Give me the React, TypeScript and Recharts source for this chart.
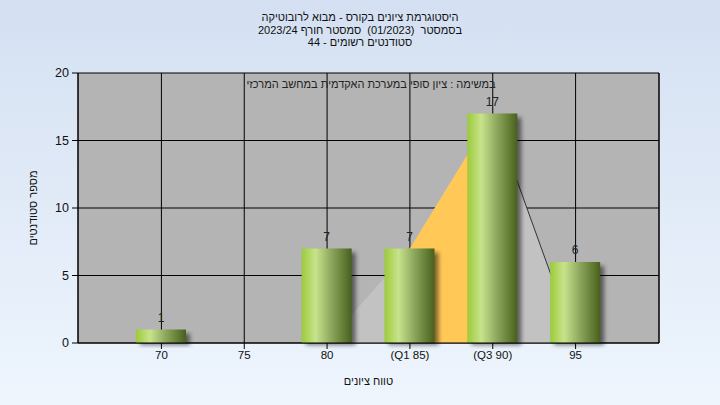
import React from 'react'
import {
  ComposedChart,
  Bar,
  Area,
  XAxis,
  YAxis,
  CartesianGrid,
  LabelList,
} from 'recharts'

const categories = ['70', '75', '80', '(Q1 85)', '(Q3 90)', '95']
const counts = [1, 0, 7, 7, 17, 6]
const spread = [null, null, 0, 7, 17, 0]
const quartileBand = [null, null, null, 7, 17, null]
const upperTail = [null, null, null, null, 17, 0]
const yTicks = [0, 5, 10, 15, 20]

const titleLines = [
  'היסטוגרמת ציונים בקורס - מבוא לרובוטיקה',
  'בסמסטר  (01/2023)  סמסטר חורף 2023/24',
  'סטודנטים רשומים - 44',
]
const note = 'במשימה : ציון סופי במערכת האקדמית במחשב המרכזי'

const data = categories.map((c, i) => ({
  label: c,
  count: counts[i],
  spread: spread[i],
  band: quartileBand[i],
  tail: upperTail[i],
}))

const FONT = '"Liberation Sans", Arial, sans-serif'

function GradientBar(props: any) {
  const { x, y, width, height } = props
  if (!height || height <= 0) return null
  return (
    <g>
      <rect
        x={x + 4}
        y={y + 4}
        width={width}
        height={height - 2}
        fill="#000"
        opacity={0.5}
        filter="url(#barShadow)"
      />
      <rect x={x} y={y} width={width} height={height} fill="url(#barGrad)" />
    </g>
  )
}

export default function App() {
  return (
    <div
      style={{
        position: 'fixed',
        left: 0,
        top: 0,
        width: 720,
        height: 405,
        background: 'linear-gradient(to bottom, #d4e0f2, #eef5fd)',
        fontFamily: FONT,
      }}
    >
      <div
        style={{
          position: 'absolute',
          top: 11,
          left: 0,
          width: 720,
          textAlign: 'center',
          direction: 'rtl',
          whiteSpace: 'pre',
          fontSize: 11,
          lineHeight: '12.5px',
          color: '#111',
        }}
      >
        {titleLines.map((t) => (
          <div key={t}>{t}</div>
        ))}
      </div>
      <ComposedChart
        width={720}
        height={405}
        data={data}
        margin={{ top: 73, right: 31, bottom: 32, left: 48 }}
      >
        <defs>
          <linearGradient id="barGrad" x1="0" y1="0" x2="1" y2="0">
            <stop offset="0%" stopColor="#9ccb3a" />
            <stop offset="28%" stopColor="#c8e38c" />
            <stop offset="60%" stopColor="#8ba65c" />
            <stop offset="100%" stopColor="#48601c" />
          </linearGradient>
          <filter id="barShadow" x="-20%" y="-20%" width="140%" height="140%">
            <feGaussianBlur stdDeviation="2" />
          </filter>
        </defs>
        <CartesianGrid yAxisId="left" fill="#b4b4b4" stroke="#000" strokeOpacity={1} />
        <XAxis
          dataKey="label"
          padding={{ left: 42, right: 42 }}
          stroke="#000"
          tick={{ fill: '#111', fontSize: 11.5, fontFamily: FONT }}
          tickLine={{ stroke: '#000' }}
          height={30}
          label={{
            value: 'טווח ציונים',
            position: 'insideBottom',
            offset: -12,
            fill: '#111',
            fontSize: 11,
            fontFamily: FONT,
          }}
        />
        <YAxis
          yAxisId="left"
          domain={[0, 20]}
          ticks={yTicks}
          width={30}
          stroke="#000"
          tickMargin={3}
          tick={{ fill: '#111', fontSize: 12.5, fontFamily: FONT }}
          label={{
            value: 'מספר סטודנטים',
            angle: -90,
            position: 'insideLeft',
            offset: -15,
            fill: '#111',
            fontSize: 11,
            fontFamily: FONT,
            style: { textAnchor: 'middle' },
          }}
        />
        <YAxis
          yAxisId="right"
          orientation="right"
          domain={[0, 20]}
          ticks={yTicks}
          width={30}
          stroke="#000"
          tickMargin={3}
          tick={{ fill: '#111', fontSize: 12.5, fontFamily: FONT }}
        />
        <Area
          yAxisId="left"
          dataKey="spread"
          type="linear"
          fill="#c2c2c2"
          fillOpacity={1}
          stroke="none"
          isAnimationActive={false}
        />
        <Area
          yAxisId="left"
          dataKey="band"
          type="linear"
          fill="#ffc857"
          fillOpacity={1}
          stroke="none"
          isAnimationActive={false}
        />
        <Area
          yAxisId="left"
          dataKey="tail"
          type="linear"
          fill="none"
          stroke="#333"
          strokeWidth={1}
          dot={false}
          activeDot={false}
          isAnimationActive={false}
        />
        <Bar
          yAxisId="left"
          dataKey="count"
          barSize={50}
          shape={<GradientBar />}
          isAnimationActive={false}
        >
          <LabelList
            dataKey="count"
            position="top"
            offset={8}
            fill="#222"
            fontSize={12}
            fontFamily={FONT}
            formatter={(v: any) => (v ? v : '')}
          />
        </Bar>
      </ComposedChart>
      <div
        style={{
          position: 'absolute',
          top: 78,
          left: 78,
          width: 586,
          textAlign: 'center',
          direction: 'rtl',
          fontSize: 11,
          color: '#222',
        }}
      >
        {note}
      </div>
    </div>
  )
}
